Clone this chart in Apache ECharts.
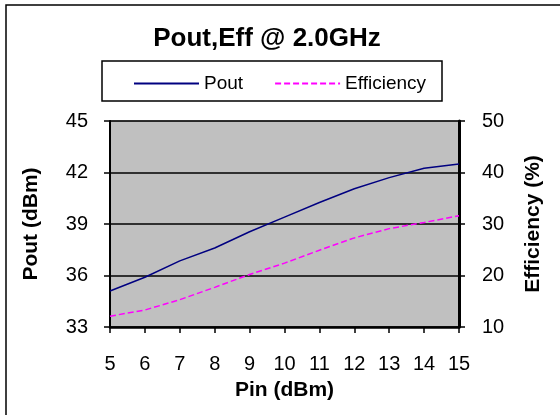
<!DOCTYPE html>
<html>
<head>
<meta charset="utf-8">
<script src="https://cdn.jsdelivr.net/npm/echarts@6/dist/echarts.min.js"></script>
<style>
html,body{margin:0;padding:0;background:#fff;}
#main{width:560px;height:415px;}
</style>
</head>
<body>
<div id="main"></div>
<script>
var titleText = 'Pout,Eff @ 2.0GHz';
var pinValues = [5, 6, 7, 8, 9, 10, 11, 12, 13, 14, 15];
var poutValues = [35.1, 35.9, 36.85, 37.6, 38.55, 39.4, 40.25, 41.05, 41.7, 42.25, 42.5];
var effValues = [12.1, 13.3, 15.3, 17.7, 20.2, 22.4, 24.9, 27.3, 29.1, 30.3, 31.6];
var seriesNames = ['Pout', 'Efficiency'];
var axisNames = { x: 'Pin (dBm)', left: 'Pout (dBm)', right: 'Efficiency (%)' };

function pairs(xs, ys) { return xs.map(function (x, i) { return [x, ys[i]]; }); }

var FONT = 'Arial, "Liberation Sans", sans-serif';
var chart = echarts.init(document.getElementById('main'), null, { renderer: 'canvas' });
chart.setOption({
  backgroundColor: '#ffffff',
  animation: false,
  textStyle: { fontFamily: FONT, color: '#000' },
  title: {
    text: titleText, left: 262, top: 21, textAlign: 'center',
    textStyle: { fontFamily: FONT, fontWeight: 'bold', fontSize: 26, color: '#000' }
  },
  graphic: [
    { type: 'rect', shape: { x: 6, y: 5, width: 700, height: 600 }, style: { fill: 'none', stroke: '#000', lineWidth: 1.5 }, silent: true },
    { type: 'rect', shape: { x: 102, y: 61, width: 340, height: 40 }, style: { fill: 'none', stroke: '#000', lineWidth: 1.5 }, silent: true }
  ],
  legend: {
    left: 128, top: 69, itemWidth: 65, itemHeight: 14, itemGap: 31,
    itemStyle: { opacity: 0 },
    textStyle: { fontFamily: FONT, fontSize: 19, color: '#000' },
    data: seriesNames
  },
  grid: {
    left: 110, right: 101, top: 121, bottom: 88, show: true,
    backgroundColor: '#C0C0C0', borderColor: '#808080', borderWidth: 1
  },
  xAxis: {
    type: 'value', min: 5, max: 15, interval: 1,
    name: axisNames.x, nameLocation: 'middle', nameGap: 53,
    nameTextStyle: { fontFamily: FONT, fontWeight: 'bold', fontSize: 21, color: '#000' },
    axisLine: { lineStyle: { color: '#000', width: 2.5 } },
    axisTick: { lineStyle: { color: '#000', width: 1.5 }, length: 6 },
    axisLabel: { fontFamily: FONT, fontSize: 20, color: '#000', margin: 27 },
    splitLine: { show: false }
  },
  yAxis: [
    {
      type: 'value', min: 33, max: 45, interval: 3, position: 'left',
      name: axisNames.left, nameLocation: 'middle', nameGap: 68, nameRotate: 90,
      nameTextStyle: { fontFamily: FONT, fontWeight: 'bold', fontSize: 21, color: '#000' },
      axisLine: { show: true, lineStyle: { color: '#000', width: 2 } },
      axisTick: { show: true, lineStyle: { color: '#000', width: 1.5 }, length: 6 },
      axisLabel: { fontFamily: FONT, fontSize: 20, color: '#000', margin: 22 },
      splitLine: { show: true, lineStyle: { color: '#000', width: 1.5 } }
    },
    {
      type: 'value', min: 10, max: 50, interval: 10, position: 'right',
      name: axisNames.right, nameLocation: 'middle', nameGap: 64, nameRotate: 90,
      nameTextStyle: { fontFamily: FONT, fontWeight: 'bold', fontSize: 21, color: '#000' },
      axisLine: { show: true, lineStyle: { color: '#000', width: 3 } },
      axisTick: { show: true, lineStyle: { color: '#000', width: 1.5 }, length: 6 },
      axisLabel: { fontFamily: FONT, fontSize: 20, color: '#000', margin: 23 },
      splitLine: { show: false }
    }
  ],
  series: [
    {
      name: seriesNames[0], type: 'line', yAxisIndex: 0, symbol: 'none',
      data: pairs(pinValues, poutValues),
      lineStyle: { color: '#000080', width: 1.5 }, itemStyle: { color: '#000080' }
    },
    {
      name: seriesNames[1], type: 'line', yAxisIndex: 1, symbol: 'none',
      data: pairs(pinValues, effValues),
      lineStyle: { color: '#FF00FF', width: 1.5, type: [6, 3] }, itemStyle: { color: '#FF00FF' }
    }
  ]
});
</script>
</body>
</html>
